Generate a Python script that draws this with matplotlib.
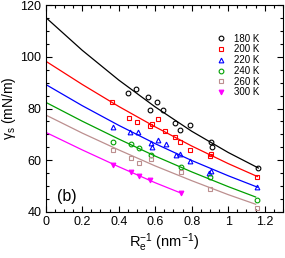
import matplotlib
matplotlib.use('Agg')
import matplotlib.pyplot as plt
from matplotlib.ticker import MultipleLocator

plt.rcParams['font.family'] = ['Liberation Sans', 'DejaVu Sans']

# measured points, one block per temperature
labels = ['180 K', '200 K', '220 K', '240 K', '260 K', '300 K']
colors = ['black', '#ff0000', '#0000ff', '#00a000', '#bc8f8f', '#ff00ff']
markers = ['o', 's', '^', 'o', 's', 'v']

x180 = [0.453, 0.495, 0.562, 0.572, 0.608, 0.644, 0.708, 0.736, 0.789, 0.904, 0.910, 1.165]
y180 = [86.1, 87.4, 84.6, 79.4, 82.6, 79.4, 74.3, 71.7, 73.6, 67.2, 65.0, 56.9]
x200 = [0.362, 0.458, 0.498, 0.572, 0.583, 0.617, 0.654, 0.708, 0.738, 0.791, 0.900, 0.908, 1.160]
y200 = [82.4, 76.3, 74.9, 73.2, 73.9, 75.8, 71.3, 69.0, 67.0, 64.1, 61.5, 62.4, 53.5]
x220 = [0.369, 0.462, 0.507, 0.575, 0.583, 0.617, 0.657, 0.712, 0.738, 0.791, 0.895, 0.905, 1.160]
y220 = [73.0, 71.0, 71.0, 66.6, 65.2, 67.8, 66.3, 61.9, 62.6, 59.6, 55.0, 55.8, 49.5]
x240 = [0.368, 0.468, 0.513, 0.575, 0.742, 0.902, 1.155]
y240 = [67.2, 66.4, 64.7, 62.2, 57.2, 53.4, 44.6]
x260 = [0.368, 0.468, 0.513, 0.575, 0.742, 0.902, 1.155]
y260 = [63.8, 61.0, 59.1, 60.5, 55.3, 49.0, 41.4]
x300 = [0.368, 0.468, 0.513, 0.572, 0.741]
y300 = [58.3, 55.4, 54.1, 52.4, 47.3]

# fitted curves
fx180 = [0, 0.2, 0.4, 0.6, 0.8, 1.0, 1.165]
fy180 = [115.2, 102.5, 91.0, 80.6, 71.2, 63.0, 57.0]
fx200 = [0, 0.2, 0.4, 0.6, 0.8, 1.0, 1.16]
fy200 = [98.3, 89.3, 80.8, 72.9, 65.5, 58.7, 53.7]
fx220 = [0, 0.2, 0.4, 0.6, 0.8, 1.0, 1.16]
fy220 = [89.3, 81.1, 73.5, 66.4, 59.9, 54.0, 49.6]
fx240 = [0, 0.2, 0.4, 0.6, 0.8, 1.0, 1.15]
fy240 = [82.4, 75.1, 68.2, 61.6, 55.5, 49.8, 45.8]
fx260 = [0, 0.2, 0.4, 0.6, 0.8, 1.0, 1.15]
fy260 = [77.5, 70.5, 64.0, 57.8, 52.1, 46.7, 43.0]
fx300 = [0, 0.2, 0.4, 0.6, 0.745]
fy300 = [70.8, 64.0, 57.5, 51.3, 47.2]

xs = [x180, x200, x220, x240, x260, x300]
ys = [y180, y200, y220, y240, y260, y300]
fxs = [fx180, fx200, fx220, fx240, fx260, fx300]
fys = [fy180, fy200, fy220, fy240, fy260, fy300]

fig = plt.figure(figsize=(2.85, 2.58), dpi=100)
ax = fig.add_axes([0.1604, 0.1783, 0.8326, 0.8023])

for i in range(6):
    ax.plot(fxs[i], fys[i], color=colors[i], lw=0.9)
    face = colors[i] if markers[i] == 'v' else 'none'
    ax.plot(xs[i], ys[i], ls='none', marker=markers[i], ms=3.4, mew=0.8,
            mec=colors[i], mfc=face, label=labels[i])

ax.set_xlim(0, 1.3)
ax.set_ylim(40, 120)
ax.xaxis.set_minor_locator(MultipleLocator(0.05))
ax.yaxis.set_major_locator(MultipleLocator(20))
ax.yaxis.set_minor_locator(MultipleLocator(5))
ax.set_xticks([0, 0.2, 0.4, 0.6, 0.8, 1.0, 1.2])
ax.set_xticklabels(['0', '0.2', '0.4', '0.6', '0.8', '1', '1.2'])
ax.tick_params(which='both', direction='in', top=True, right=True, labelsize=9, pad=3)
ax.tick_params(which='major', length=4.5, width=0.8)
ax.tick_params(which='minor', length=2.5, width=0.8)
for s in ax.spines.values():
    s.set_linewidth(0.8)

ax.set_xlabel(r'$\mathregular{R_e^{-1}}$ (nm$\mathregular{^{-1}}$)', fontsize=10.5, labelpad=2)
ax.set_ylabel(r'$\mathregular{\gamma_s}$ (mN/m)', fontsize=10, labelpad=2)
ax.text(0.06, 45.9, '(b)', fontsize=11.5, va='center', ha='left')

ax.legend(loc='upper left', bbox_to_anchor=(0.724, 0.862), frameon=False, fontsize=7,
          handlelength=0.8, handletextpad=0.9, labelspacing=0.08, borderpad=0,
          borderaxespad=0)

fig.savefig('out.png', dpi=100)
